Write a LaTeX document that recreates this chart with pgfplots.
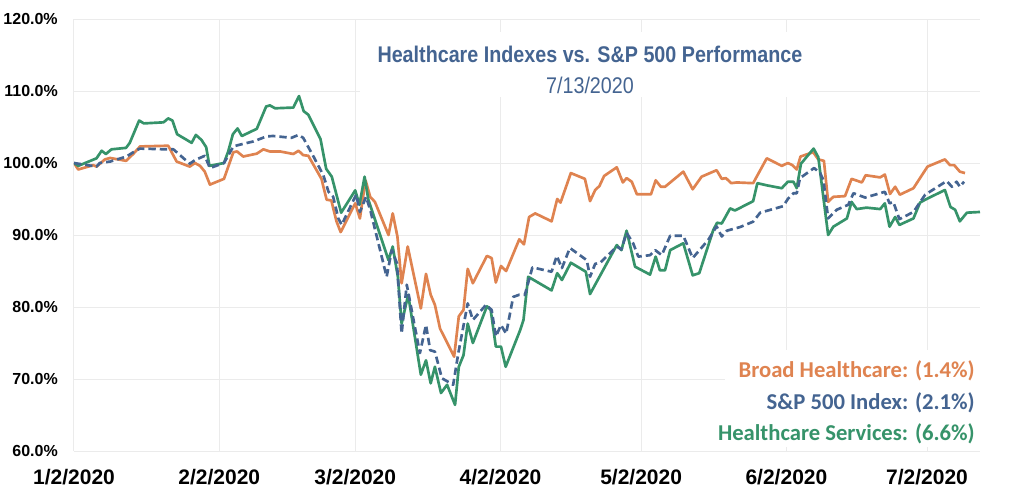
\documentclass[border=0pt]{standalone}
\usepackage{fontspec}
\setmainfont{Liberation Sans}
\newfontfamily\legfont{Carlito}
\newfontfamily\titlefont[FakeStretch=0.87]{Liberation Sans}
\usepackage{pgfplots}
\usepackage{pgfplotstable}
\pgfplotsset{compat=1.18}
\definecolor{cOrange}{HTML}{DF8350}
\definecolor{cBlue}{HTML}{446491}
\definecolor{cGreen}{HTML}{36936A}
\definecolor{gridgray}{HTML}{EBEBEB}

% x = calendar days after 1/2/2020, y = performance (%)
\pgfplotstableread{
d v
0 100.0
0.9 99.1
4.1 99.7
4.8 99.5
6.6 100.5
7.7 100.7
11.1 100.3
12.7 101.3
14.1 102.3
20.1 102.4
21.9 100.2
24.7 99.5
25.8 100.0
26.9 99.6
27.9 98.8
29.0 97.0
32.0 97.8
34.0 101.5
34.8 101.6
36.1 100.9
39.0 101.3
40.4 101.9
41.8 101.6
44.0 101.6
46.8 101.25
47.9 101.7
48.9 101.1
50.0 101.0
52.8 97.8
53.9 94.9
54.9 94.8
56.0 91.9
56.9 90.4
60.0 94.4
61.0 92.3
62.2 97.6
63.2 95.3
64.2 94.6
67.1 90.0
68.0 93.0
69.0 89.8
69.9 83.3
71.2 88.4
74.0 79.8
75.1 84.6
76.1 81.7
77.0 80.3
78.1 77.0
81.1 73.1
82.1 78.7
83.1 79.6
84.0 85.3
85.1 83.3
88.1 87.1
89.1 86.8
90.0 83.4
91.1 85.7
92.2 85.0
95.0 89.4
96.0 88.7
97.1 92.5
98.4 93.0
101.9 91.9
103.1 95.0
103.8 94.5
106.0 98.6
109.0 97.8
110.1 94.7
111.2 96.25
112.1 96.8
113.1 98.2
115.8 99.4
117.1 97.3
117.9 97.9
119.0 97.4
120.1 95.65
123.1 95.65
124.1 97.6
125.2 96.7
126.1 96.7
130.0 98.8
132.0 96.35
133.9 98.1
137.1 99.0
138.2 97.8
139.1 97.9
140.2 97.2
141.4 97.3
144.9 97.2
147.8 100.65
151.0 99.6
152.3 100.0
153.3 99.7
154.2 99.1
155.0 100.9
157.7 101.5
158.8 100.5
160.0 100.3
160.9 94.6
162.0 95.3
164.5 95.4
165.9 97.8
168.1 97.3
168.9 98.3
172.0 98.0
173.0 98.4
174.1 95.7
175.2 96.7
176.2 95.6
179.1 96.5
182.1 99.5
185.8 100.5
186.9 99.7
187.8 99.7
189.0 98.8
190.1 98.6
}\broad

\pgfplotstableread{
d v
0 100.0
4.8 99.5
5.5 100.0
7.7 100.2
11.2 100.9
13.4 101.8
14.1 102.0
19.8 101.9
21.2 101.9
24.7 99.9
25.8 100.4
27.9 101.0
29.0 99.3
32.0 100.0
34.0 102.3
35.1 102.5
38.3 103.0
41.1 103.7
42.5 103.75
46.4 103.5
47.9 103.9
48.9 103.5
51.1 100.9
53.2 98.3
54.3 96.0
55.3 95.3
56.4 92.3
57.1 91.4
60.2 95.6
61.0 93.2
62.3 95.3
63.2 93.5
66.7 84.2
67.8 87.9
68.9 86.1
69.9 76.3
71.0 83.1
73.8 73.6
75.1 77.5
76.0 74.0
77.0 73.8
78.5 70.1
80.9 69.2
82.0 73.6
84.0 80.5
85.1 78.2
87.9 80.3
89.1 79.6
90.0 75.9
91.1 77.5
92.2 76.3
93.7 81.4
95.0 81.7
96.2 81.7
97.8 85.5
101.9 84.9
103.0 87.1
104.1 85.4
105.8 88.2
109.4 86.5
110.1 84.2
111.2 86.0
112.2 86.1
115.8 88.4
116.8 88.0
117.9 90.3
119.3 88.85
120.4 87.0
122.9 87.2
124.0 87.9
125.4 87.2
127.2 89.9
130.0 89.9
132.0 86.8
135.3 89.3
137.1 91.2
138.2 89.8
139.3 90.6
142.1 91.1
144.9 91.85
146.4 93.1
151.3 94.0
152.3 95.0
153.5 95.8
154.2 95.8
154.9 97.9
157.9 99.3
159.2 98.6
159.9 97.6
160.9 92.3
162.7 93.5
165.2 94.2
166.3 95.8
168.8 95.2
173.0 96.0
174.0 94.4
174.8 94.6
176.1 92.2
179.1 93.2
181.6 95.6
186.2 97.5
187.3 96.7
188.3 97.4
189.0 96.7
189.9 97.4
}\spx

\pgfplotstableread{
d v
0 100.0
0.9 99.6
4.8 100.65
5.9 101.7
6.8 101.25
8.0 101.9
11.1 102.1
11.9 102.8
13.9 105.9
14.9 105.5
19.1 105.65
20.1 106.2
21.0 105.9
22.0 104.0
25.1 102.8
26.0 103.9
27.2 103.2
28.2 102.2
28.9 99.6
32.0 100.0
32.9 101.6
33.9 104.0
34.9 104.8
35.8 103.75
39.0 104.75
41.0 107.85
41.8 108.0
42.9 107.6
46.8 107.7
48.0 109.3
49.0 107.2
50.0 106.7
52.6 103.3
53.8 99.2
55.0 98.1
57.0 93.1
60.0 96.2
60.9 94.2
62.0 98.1
62.8 94.9
67.1 86.5
68.0 88.4
69.1 84.2
69.9 77.7
71.3 81.7
74.0 70.6
75.1 72.6
76.1 69.4
77.0 71.7
78.3 68.05
79.6 69.2
81.3 66.4
82.1 71.7
83.1 73.3
84.0 77.7
85.1 75.0
88.1 80.1
88.9 79.6
90.0 74.5
91.1 74.5
92.1 71.7
95.2 76.8
95.9 78.2
96.9 84.2
101.9 82.3
103.1 84.7
104.1 83.75
106.0 86.15
109.2 84.9
110.1 81.8
115.8 88.6
116.8 87.9
117.9 90.6
119.7 85.6
122.9 84.5
124.1 87.0
125.0 85.1
126.1 85.1
127.2 87.9
130.0 88.85
132.0 84.4
133.4 84.7
136.4 90.7
137.2 91.7
138.2 91.6
140.0 93.7
141.0 93.4
144.9 94.7
145.8 97.2
147.8 96.9
151.0 96.5
152.3 97.4
153.5 97.4
154.2 96.5
155.1 99.9
157.8 102.0
158.8 100.8
160.9 90.0
162.0 91.15
164.9 92.3
165.9 94.6
167.0 93.6
169.1 93.8
172.0 93.6
173.0 94.4
174.0 91.15
175.2 92.5
176.1 91.4
179.1 92.3
180.5 94.5
181.6 94.9
185.8 96.25
187.0 93.9
188.0 93.5
189.0 91.9
190.5 93.1
193.3 93.2
}\services

\begin{document}
\begin{tikzpicture}
\begin{axis}[
  at={(0pt,0pt)}, anchor=south west,
  scale only axis, width=679.5pt, height=324pt,
  xmin=0, xmax=193.3, ymin=60, ymax=120,
  axis line style={draw=none},
  major tick length=0pt,
  grid=major,
  grid style={draw=gridgray, line width=0.75pt},
  xtick={0,31,60,91,121,152,182},
  xticklabels={1/2/2020,2/2/2020,3/2/2020,4/2/2020,5/2/2020,6/2/2020,7/2/2020},
  ytick={60,70,80,90,100,110,120},
  yticklabels={60.0\%,70.0\%,80.0\%,90.0\%,100.0\%,110.0\%,120.0\%},
  xticklabel style={font=\fontsize{15.75}{18}\selectfont\bfseries, anchor=north, inner sep=0pt, yshift=-13.5pt},
  yticklabel style={font=\fontsize{12}{14}\selectfont\bfseries, anchor=east, inner sep=0pt, xshift=-12pt},
]
\addplot[color=cOrange, line width=2pt, line join=round] table[x=d,y=v]{\broad};
\addplot[color=cGreen, line width=2pt, line join=round] table[x=d,y=v]{\services};
\addplot[color=cBlue, line width=2pt, line join=round, dash pattern=on 5.5pt off 3pt] table[x=d,y=v]{\spx};
\end{axis}
% white boxes behind title and legend
\fill[white] (214.5pt,265.5pt) rectangle (552pt,314.25pt);
\fill[white] (488pt,3pt) rectangle (680pt,75.75pt);
\node[anchor=base, text=cBlue, font=\titlefont\bfseries\fontsize{17}{20}\selectfont, inner sep=0pt] at (387pt,291pt) {Healthcare Indexes vs. S\&P 500 Performance};
\node[anchor=base, text=cBlue, font=\titlefont\fontsize{17}{20}\selectfont, inner sep=0pt] at (387pt,267.75pt) {7/13/2020};
\node[anchor=base east, text=cOrange, font=\legfont\bfseries\fontsize{17}{20}\selectfont, inner sep=0pt] at (675.75pt,55.5pt) {Broad Healthcare: (1.4\%)};
\node[anchor=base east, text=cBlue, font=\legfont\bfseries\fontsize{17}{20}\selectfont, inner sep=0pt] at (675.75pt,31.5pt) {S\&P 500 Index: (2.1\%)};
\node[anchor=base east, text=cGreen, font=\legfont\bfseries\fontsize{17}{20}\selectfont, inner sep=0pt] at (675.75pt,8.25pt) {Healthcare Services: (6.6\%)};
\pgfresetboundingbox
\path (-55.5pt,-29.25pt) rectangle (712.5pt,338.25pt);
\end{tikzpicture}
\end{document}
